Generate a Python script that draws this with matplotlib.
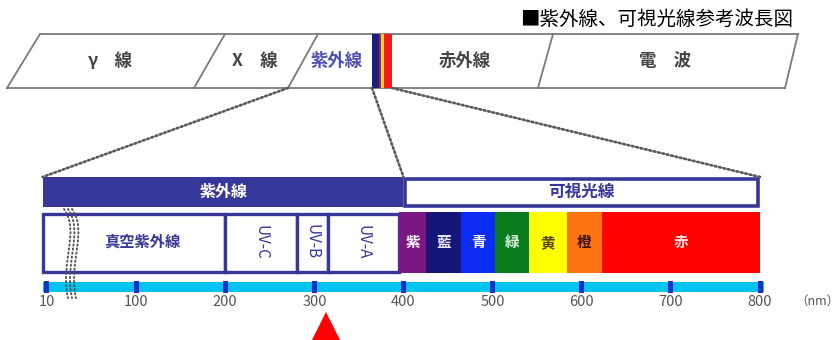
import matplotlib.pyplot as plt
from matplotlib.patches import Rectangle, ConnectionPatch, PathPatch
from matplotlib.path import Path

plt.rcParams['font.family'] = ['Noto Sans CJK JP', 'DejaVu Sans']

# ---- データ ----
title = '■紫外線、可視光線参考波長図'

# 上段の電磁波スペクトル (模式図, ピクセル位置)
band_names = ['γ\u3000線', 'X\u3000線', '紫外線', '赤外線', '電\u3000波']
band_label_x = [110, 255, 337, 465, 665]
band_edges_top = [40, 225, 318, 553, 798]
band_edges_bot = [7, 194, 288, 538, 785]
strip_edges = [372, 379, 381, 384, 392]
strip_colors = ['#1d1d7c', '#7a2a9a', '#ffd400', '#ee1c1c']

# 下段 (nm)
uv_names = ['真空紫外線', 'UV-C', 'UV-B', 'UV-A']
uv_edges = [-5, 200, 280, 315, 395]
vis_names = ['紫', '藍', '青', '緑', '黄', '橙', '赤']
vis_edges = [395, 425, 465, 503, 541, 583, 623, 800]
vis_colors = ['#7b1682', '#16167a', '#0c2cf5', '#0a7d1e', '#ffff00', '#ff7412', '#ff0000']
vis_text_colors = ['white', '#e8e8f4', 'white', '#d8ecd8', '#5a4800', '#3a1400', '#ffe0e0']
tick_pos = [0, 100, 200, 300, 400, 500, 600, 700, 800]
tick_labels = ['10', '100', '200', '300', '400', '500', '600', '700', '800']
marker_nm = 313

navy = '#37379a'

fig = plt.figure(figsize=(8.38, 3.4), dpi=100)

# nm の軸
ax = fig.add_axes([0, 0, 1, 1])
ax.set_xlim(-52.7, 887.5)
ax.set_ylim(340, 0)
ax.axis('off')

# 上段用 (ピクセル座標)
ax_top = fig.add_axes([0, 0, 1, 1])
ax_top.set_xlim(0, 838)
ax_top.set_ylim(340, 0)
ax_top.axis('off')

ax_top.text(793, 19, title, ha='right', va='center', fontsize=14, color='black')

# --------------------------
# 上段: 電磁波の帯
# --------------------------
y_t, y_b = 34, 88
edge_kw = dict(color='#7a7a7a', lw=1.3)
ax_top.plot([band_edges_top[0], band_edges_top[-1]], [y_t, y_t], **edge_kw)
ax_top.plot([band_edges_bot[0], band_edges_bot[-1]], [y_b, y_b], **edge_kw)
for xt, xb in zip(band_edges_top, band_edges_bot):
    ax_top.plot([xb, xt], [y_b, y_t], **edge_kw)

for i, c in enumerate(strip_colors):
    ax_top.add_patch(Rectangle((strip_edges[i], y_t), strip_edges[i + 1] - strip_edges[i],
                               y_b - y_t, color=c, lw=0, zorder=3))

for name, x in zip(band_names, band_label_x):
    col = '#5050b0' if name == '紫外線' else '#444444'
    ax_top.text(x, 61, name, ha='center', va='center', fontsize=12.5,
                fontweight='bold', color=col)

# --------------------------
# 下段: 紫外線 / 可視光線 ヘッダー
# --------------------------
ax.add_patch(Rectangle((uv_edges[0], 177), 400 - uv_edges[0], 30, color=navy, lw=0))
ax.text((uv_edges[0] + 400) / 2, 192, '紫外線', ha='center', va='center',
        fontsize=11.5, fontweight='bold', color='white')
ax.add_patch(Rectangle((402, 178.5), 398 - 2, 27, facecolor='white', edgecolor=navy, lw=2.6))
ax.text(600, 192, '可視光線', ha='center', va='center', fontsize=12,
        fontweight='bold', color=navy)

# 紫外線の区分
for i, name in enumerate(uv_names):
    x0, x1 = uv_edges[i], uv_edges[i + 1]
    ax.add_patch(Rectangle((x0, 213.5), x1 - x0, 58, facecolor='white',
                           edgecolor=navy, lw=2.4))
    if i == 0:
        ax.text((x0 + x1) / 2 + 10, 242, name, ha='center', va='center',
                fontsize=11, fontweight='bold', color=navy)
    else:
        ax.text((x0 + x1) / 2, 242, name, ha='center', va='center', rotation=270,
                fontsize=11, color=navy)

# 可視光線の色
for i, name in enumerate(vis_names):
    x0, x1 = vis_edges[i], vis_edges[i + 1]
    ax.add_patch(Rectangle((x0, 212), x1 - x0, 61, color=vis_colors[i], lw=0))
    ax.text((x0 + x1) / 2, 242, name, ha='center', va='center', fontsize=10.5,
            fontweight='bold', color=vis_text_colors[i])

# 目盛りバー
ax.add_patch(Rectangle((uv_edges[0], 282), 805 - uv_edges[0], 10, color='#00c4ef', lw=0))
for p, lab in zip(tick_pos, tick_labels):
    ax.add_patch(Rectangle((p - 2.8, 281), 5.6, 12, color='#1430c8', lw=0))
    ax.text(p, 302, lab, ha='center', va='center', fontsize=10.5, color='#555555')
ax_top.text(817, 301, '（nm）', ha='center', va='center', fontsize=9, color='#555555')

# 波線 (省略記号)
for dx in [0, 4, 8]:
    verts = [(64 + dx, 209), (80 + dx, 232), (60 + dx, 262), (68 + dx, 298)]
    path = Path(verts, [Path.MOVETO, Path.CURVE4, Path.CURVE4, Path.CURVE4])
    ax_top.add_patch(PathPatch(path, fill=False, edgecolor='#555555', lw=1.4,
                               linestyle=(0, (0.6, 1.5)), capstyle='round', zorder=5))

# 点線の引き出し線
links = [((288, y_b), (uv_edges[0], 177)),
         ((372, y_b), (400, 177)),
         ((392, y_b), (800, 177))]
for a, b in links:
    con = ConnectionPatch(xyA=a, coordsA=ax_top.transData, xyB=b, coordsB=ax.transData,
                          color='#5a5a5a', lw=1.9, linestyle=(0, (0.7, 1.0)),
                          capstyle='round')
    fig.add_artist(con)

# 赤い三角
ax.plot([marker_nm], [328.5], marker='^', markersize=24.5, color='#ff0000',
        markeredgewidth=0, clip_on=True)

plt.savefig('out.png', dpi=100)
